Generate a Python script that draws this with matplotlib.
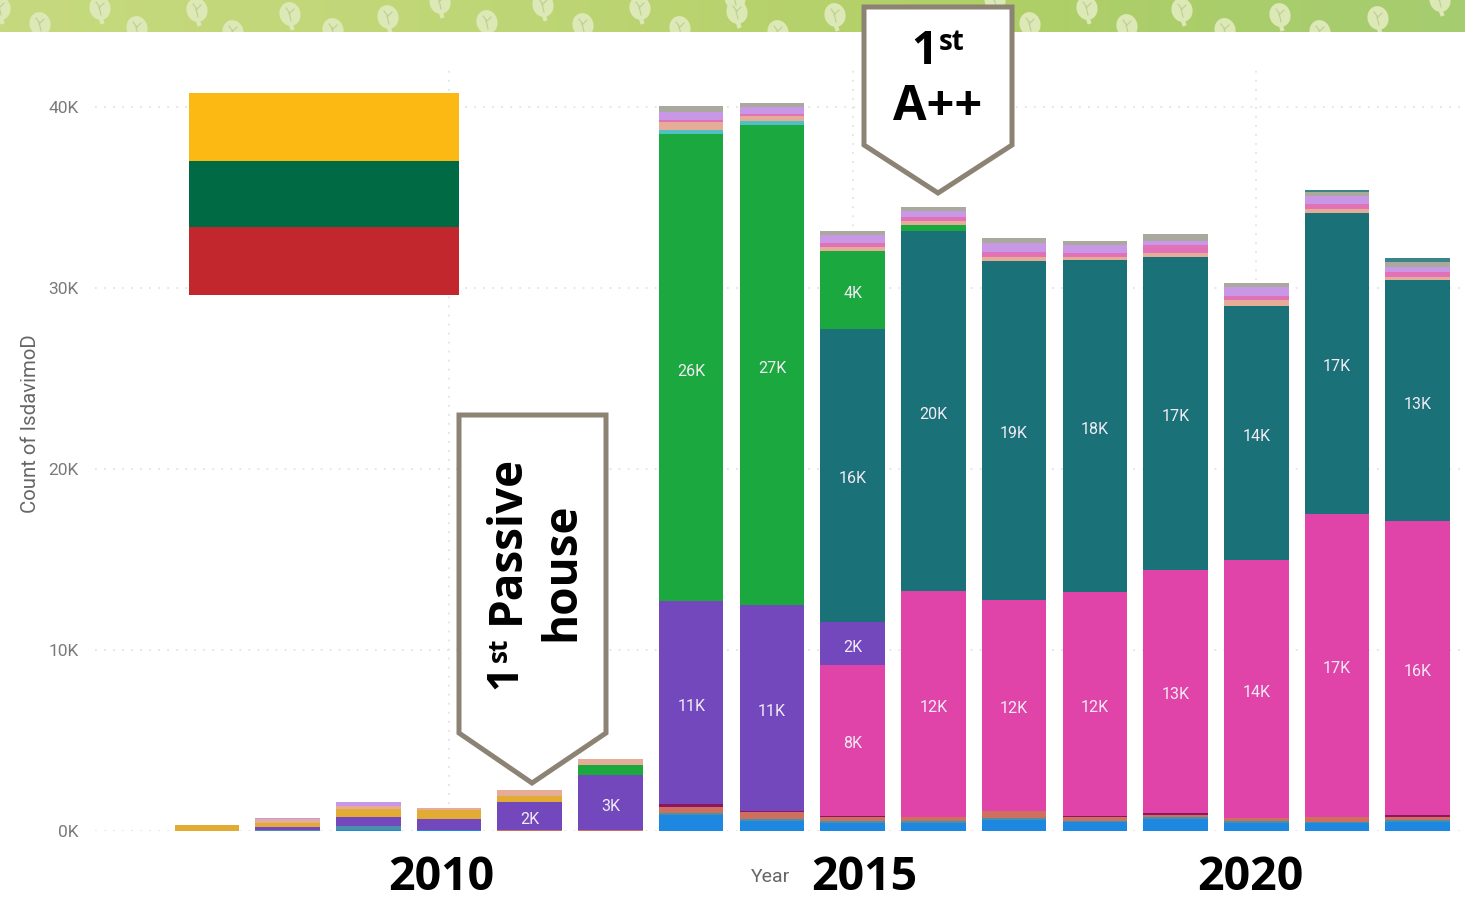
import numpy as np
import matplotlib
matplotlib.use("Agg")
import matplotlib.pyplot as plt
from matplotlib.patches import Polygon, Rectangle, Ellipse
from matplotlib.colors import LinearSegmentedColormap

years = list(range(2007, 2023))
blue    = [0, 0.02, 0.05, 0.03, 0, 0, 0.9, 0.55, 0.45, 0.45, 0.6, 0.5, 0.65, 0.45, 0.45, 0.5]
steel   = [0, 0.02, 0.2, 0.03, 0.02, 0.02, 0.1, 0.1, 0.1, 0.1, 0.1, 0.05, 0.1, 0.1, 0.05, 0.1]
orange  = [0, 0, 0, 0, 0.02, 0.05, 0.3, 0.4, 0.25, 0.2, 0.4, 0.25, 0.15, 0.15, 0.25, 0.2]
maroon  = [0, 0, 0, 0, 0, 0, 0.18, 0.03, 0.05, 0.05, 0.03, 0.03, 0.12, 0.03, 0.03, 0.07]
pink    = [0, 0, 0, 0, 0, 0, 0, 0, 8.3, 12.45, 11.65, 12.4, 13.4, 14.25, 16.75, 16.25]
purple  = [0.02, 0.2, 0.5, 0.6, 1.57, 3.0, 11.2, 11.4, 2.4, 0, 0, 0, 0, 0, 0, 0]
teal    = [0, 0, 0, 0, 0, 0, 0, 0, 16.2, 19.9, 18.7, 18.3, 17.3, 14.0, 16.6, 13.3]
green   = [0, 0, 0, 0, 0, 0.55, 25.85, 26.55, 4.3, 0.33, 0, 0, 0, 0, 0, 0]
gold    = [0.33, 0.2, 0.45, 0.5, 0.35, 0.05, 0, 0, 0, 0, 0, 0, 0, 0, 0, 0]
cyan    = [0, 0, 0, 0, 0, 0, 0.2, 0.2, 0, 0, 0, 0, 0, 0, 0, 0]
peach   = [0, 0.2, 0.2, 0.1, 0.3, 0.3, 0.45, 0.25, 0.2, 0.2, 0.24, 0.2, 0.24, 0.33, 0.24, 0.18]
magenta = [0, 0, 0, 0, 0, 0, 0.1, 0.12, 0.25, 0.25, 0.25, 0.22, 0.42, 0.25, 0.28, 0.26]
lilac   = [0, 0.1, 0.2, 0, 0, 0, 0.45, 0.42, 0.42, 0.3, 0.5, 0.4, 0.22, 0.5, 0.46, 0.3]
grey    = [0, 0, 0, 0, 0, 0.03, 0.3, 0.22, 0.22, 0.27, 0.29, 0.24, 0.38, 0.22, 0.22, 0.25]
cap     = [0, 0, 0, 0, 0, 0, 0, 0, 0, 0, 0, 0, 0, 0, 0.06, 0.24]

stack = [
    (blue, "#1E88E0"), (steel, "#4A90A8"), (orange, "#CF6F5F"), (maroon, "#8E1560"),
    (pink, "#E044A8"), (purple, "#7248BC"), (teal, "#1B7178"), (green, "#1BA83F"),
    (gold, "#E2AB34"), (cyan, "#52BFC4"), (peach, "#E5AD98"), (magenta, "#E272B8"),
    (lilac, "#C898E6"), (grey, "#A9A99E"), (cap, "#3C8488"),
]
yticks = [0, 10, 20, 30, 40]
ytick_labels = ["0K", "10K", "20K", "30K", "40K"]
label_min = 1.5
year_marks = [("2010", 441), ("2015", 864), ("2020", 1250)]
flag = ["#FDB913", "#006A44", "#C1272D"]

W, H = 1465, 900
fig = plt.figure(figsize=(W / 100, H / 100), dpi=100, facecolor="white")
ax = fig.add_axes([95 / W, (H - 831) / H, (W - 95) / W, (831 - 70) / H])
ax.set_xlim(2005.615, 2022.585)
ax.set_ylim(0, 761 / 18.1)
for s in ax.spines.values():
    s.set_visible(False)
ax.set_axisbelow(True)
ax.grid(True, ls=(0, (1, 4)), lw=1.3, color="#E4E4E4")
ax.set_xticks([2010, 2015, 2020])
ax.tick_params(axis="x", length=0, labelbottom=False)
ax.set_yticks(yticks)
ax.set_yticklabels(ytick_labels, fontsize=12.5, color="#7A7A7A", family="Roboto")
ax.tick_params(axis="y", length=0, pad=12)

bottom = np.zeros(len(years))
for values, color in stack:
    vals = np.array(values, float)
    ax.bar(years, vals, 0.8, bottom=bottom, color=color, lw=0)
    for yr, v, b in zip(years, vals, bottom):
        if v >= label_min:
            ax.annotate(f"{v:.0f}K", (yr, b + v / 2), xytext=(0, -2.5), textcoords="offset points",
                        color="#F3ECF6", ha="center", va="center", fontsize=11.5, family="Roboto")
    bottom += vals

ov = fig.add_axes([0, 0, 1, 1], facecolor="none")
ov.axis("off")

# leaf-patterned banner
cmap = LinearSegmentedColormap.from_list("band", ["#C6D97E", "#BFD676", "#B0CF66", "#A5CC70"])
ov.imshow(np.linspace(0, 1, 256)[None, :], extent=[0, W, 32, 0], cmap=cmap, aspect="auto", zorder=1)
ov.set_xlim(0, W)
ov.set_ylim(H, 0)
clip = Rectangle((0, 0), W, 32, transform=ov.transData)
leaves = [(100, 8), (197, 10), (290, 14), (388, 17), (487, 22), (543, 5), (640, 8), (737, 12),
          (835, 15), (1087, 8), (1182, 10), (1280, 15), (1378, 18), (1440, 0), (440, 2), (40, 24),
          (137, 28), (233, 32), (333, 30), (583, 25), (680, 28), (778, 32), (1030, 24), (1127, 26),
          (1225, 30), (1320, 32), (0, 8), (995, 0), (735, -2)]
for xc, yc in leaves:
    e = Ellipse((xc, yc), 21, 24, angle=-15, color="#DCE8B6", lw=0, zorder=2)
    ov.add_patch(e)
    e.set_clip_path(clip)
    for dx0, dy0, dx1, dy1 in [(1, 7, -1, -2), (-1, -2, -4, -6), (-1, 0, 4, -5)]:
        ln, = ov.plot([xc + dx0, xc + dx1], [yc + dy0, yc + dy1], color="#BCD096", lw=0.8, zorder=2.1)
        ln.set_clip_path(clip)
    st, = ov.plot([xc + 1, xc + 2], [yc + 11, yc + 14], color="#DCE8B6", lw=3, zorder=2)
    st.set_clip_path(clip)

for i, c in enumerate(flag):
    top, bot = [(93, 160.5), (160.5, 227), (227, 295)][i]
    ov.add_patch(Rectangle((189, top), 270, bot - top, color=c, lw=0, zorder=3))

edge = "#8C8374"
ov.add_patch(Polygon([(864, 7), (1012, 7), (1012, 145), (938, 193), (864, 145)], closed=True,
                     fc="white", ec=edge, lw=3.6, joinstyle="miter", zorder=4))
ov.add_patch(Polygon([(459, 415), (606, 415), (606, 733), (532, 783), (459, 733)], closed=True,
                     fc="white", ec=edge, lw=3.6, joinstyle="miter", zorder=4))

bold = dict(family="Open Sans", fontweight="bold", color="black", zorder=5)
ov.text(924, 51, "1", fontsize=33, ha="center", va="center", **bold)
ov.text(952, 43, "st", fontsize=20, ha="center", va="center", **bold)
ov.text(938, 108, "A++", fontsize=35, ha="center", va="center", **bold)

ov.text(505, 677, "1", fontsize=31, ha="center", va="center", rotation=90, **bold)
ov.text(499, 650, "st", fontsize=19, ha="center", va="center", rotation=90, **bold)
ov.text(506, 539, "Passive", fontsize=33, ha="center", va="center", rotation=90, **bold)
ov.text(562, 572, "house", fontsize=33, ha="center", va="center", rotation=90, **bold)

for t, x in year_marks:
    ov.text(x, 878, t, fontsize=33.5, ha="center", va="center", **bold)
ov.text(771, 877, "Year", fontsize=14, color="#666666", ha="center", va="center",
        family="Roboto", zorder=5)
ov.text(31, 424, "Count of IsdavimoD", fontsize=14.7, color="#666666", ha="center", va="center",
        rotation=90, family="Roboto", zorder=5)

fig.savefig("out.png", dpi=100)
